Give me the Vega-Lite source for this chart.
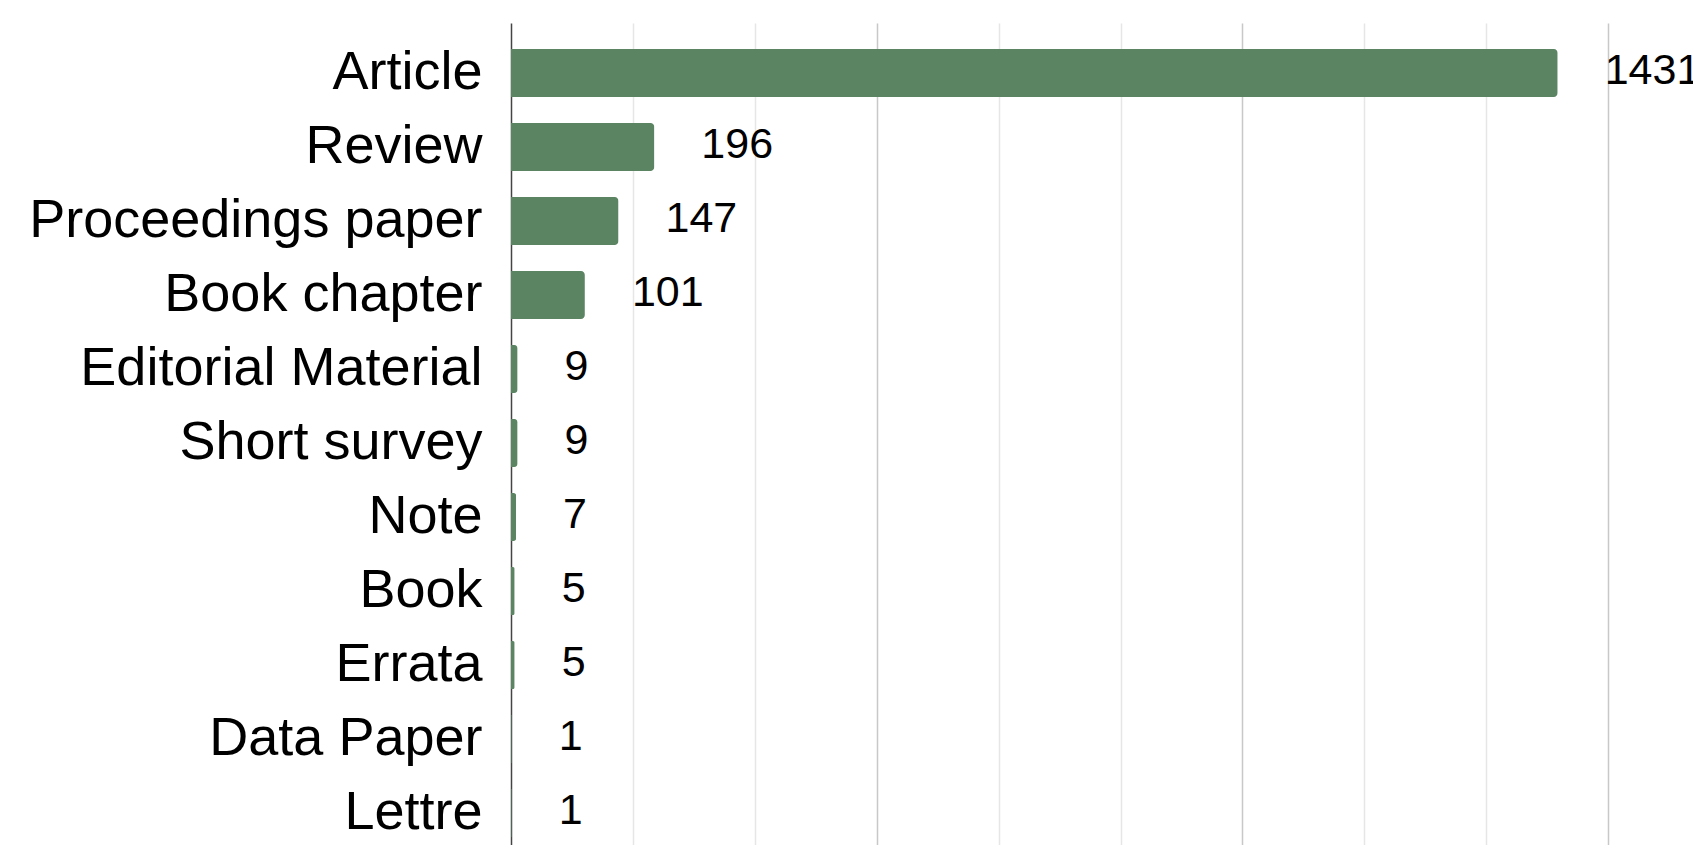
{
  "$schema": "https://vega.github.io/schema/vega-lite/v6.json",
  "autosize": {"type": "none"},
  "padding": {"left": 511, "top": 23, "right": 0, "bottom": 0},
  "width": 1182,
  "height": 822,
  "background": "white",
  "config": {"view": {"stroke": null}, "font": "Liberation Sans"},
  "data": {
    "values": [
      {"type": "Article", "count": 1431},
      {"type": "Review", "count": 196},
      {"type": "Proceedings paper", "count": 147},
      {"type": "Book chapter", "count": 101},
      {"type": "Editorial Material", "count": 9},
      {"type": "Short survey", "count": 9},
      {"type": "Note", "count": 7},
      {"type": "Book", "count": 5},
      {"type": "Errata", "count": 5},
      {"type": "Data Paper", "count": 1},
      {"type": "Lettre", "count": 1}
    ]
  },
  "encoding": {
    "y": {
      "field": "type",
      "type": "nominal",
      "sort": null,
      "scale": {"paddingInner": 0.35, "paddingOuter": 0.229, "align": 0.767},
      "axis": {
        "title": null,
        "labelFont": "Liberation Sans",
        "labelFontSize": 54,
        "labelColor": "#000000",
        "labelPadding": 29,
        "ticks": false,
        "domainColor": "#444444",
        "domainWidth": 1.5,
        "labelLimit": 600
      }
    },
    "x": {
      "field": "count",
      "type": "quantitative",
      "scale": {"domain": [0, 1616], "nice": false, "zero": true},
      "axis": {
        "title": null,
        "labels": false,
        "ticks": false,
        "domain": false,
        "values": [166.667, 333.333, 500, 666.667, 833.333, 1000, 1166.667, 1333.333, 1500],
        "gridColor": {"condition": {"test": "round(datum.value) % 500 === 0", "value": "#c8c8c8"}, "value": "#e6e6e6"},
        "gridWidth": 1.5
      }
    }
  },
  "layer": [
    {
      "mark": {"type": "bar", "color": "#5b8463", "cornerRadiusEnd": 4}
    },
    {
      "mark": {"type": "text", "align": "left", "baseline": "middle", "dx": 47, "dy": -2, "fontSize": 43, "font": "Liberation Sans", "color": "#000000"},
      "encoding": {"text": {"field": "count", "type": "quantitative"}}
    }
  ]
}
